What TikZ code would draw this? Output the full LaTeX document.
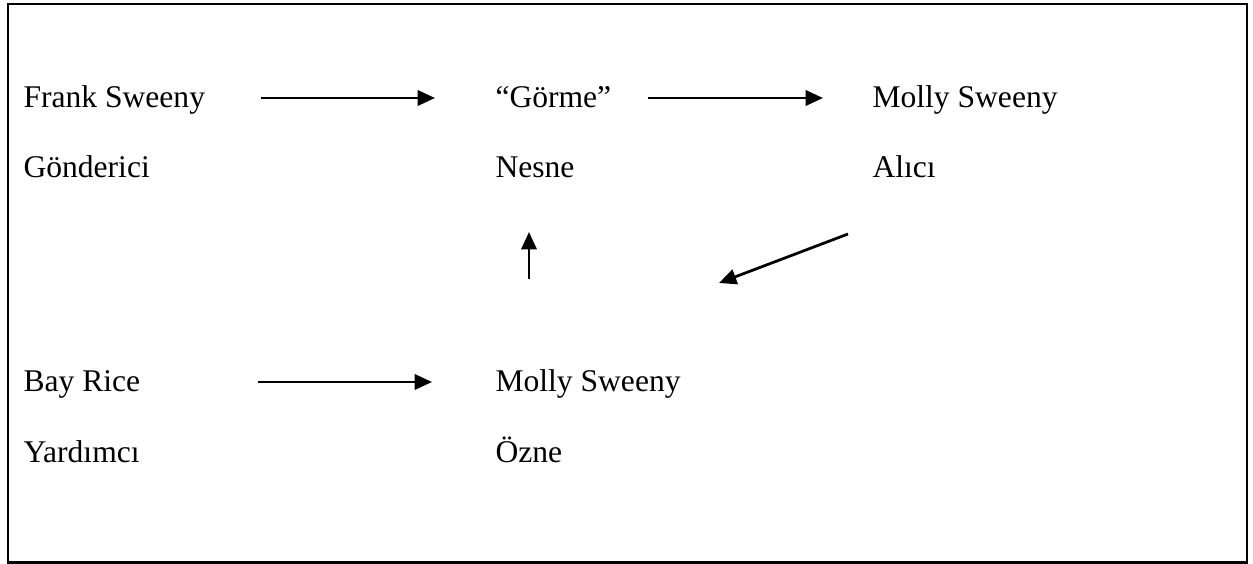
\documentclass[tikz,border=0pt]{standalone}
\usepackage{fontspec}
\setmainfont{Liberation Serif}
\usetikzlibrary{arrows.meta,calc}
\tikzset{role/.style={anchor=base west,inner sep=0pt,font=\fontsize{12}{14}\selectfont},
  conn/.style={line width=1.05pt,-{Triangle[length=6.6pt,width=5.8pt]}}}
\begin{document}
\begin{tikzpicture}[x=0.38pt,y=-0.38pt]
\useasboundingbox (0,0) rectangle (1253,564);
\draw[line width=1.05pt] (8,4) rectangle (1247,562.5);
% actants
\node[role] (frank) at (23,108) {Frank Sweeny};
\node[role] (gond) at (23,178) {Gönderici};
\node[role] (gorme) at (495,108) {“Görme”};
\node[role] (nesne) at (495,178) {Nesne};
\node[role] (molly) at (872,108) {Molly Sweeny};
\node[role] (alici) at (872,178) {Alıcı};
\node[role] (rice) at (23,392) {Bay Rice};
\node[role] (yard) at (23,463) {Yardımcı};
\node[role] (ozne) at (495,392) {Molly Sweeny};
\node[role] (oz) at (495,463) {Özne};
% arrows
\draw[conn] ($(frank.base east)+(55,-10)$)--($(gorme.base west)+(-60,-10)$);
\draw[conn] ($(gorme.base east)+(36,-10)$)--($(molly.base west)+(-49,-10)$);
\draw[conn] ($(rice.base east)+(117,-10)$)--($(ozne.base west)+(-63,-10)$);
\draw[conn] ($(ozne.base west)+(34,-113)$)--($(nesne.base west)+(34,54)$);
\draw[conn] ($(alici.base west)+(-24,56)$)--($(ozne.base west)+(224,-109)$);
\end{tikzpicture}
\end{document}
